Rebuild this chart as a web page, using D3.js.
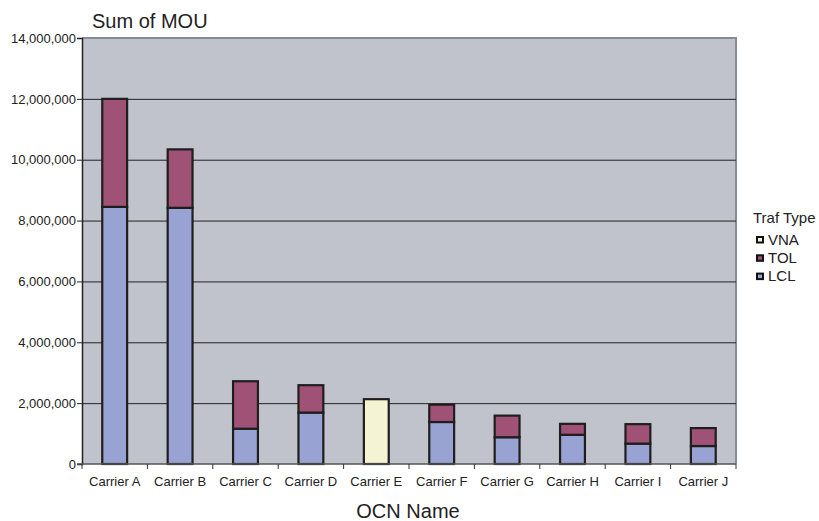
<!DOCTYPE html>
<html><head><meta charset="utf-8">
<script src="https://cdn.jsdelivr.net/npm/d3@7"></script>
<style>body{margin:0;background:#fff;} text{font-family:"Liberation Sans",Arial,sans-serif;fill:#222;}</style>
</head><body>
<svg id="c" width="819" height="521"></svg>
<script>
const categories = ["Carrier A","Carrier B","Carrier C","Carrier D","Carrier E","Carrier F","Carrier G","Carrier H","Carrier I","Carrier J"];
const lclValues = [8450000,8420000,1160000,1690000,0,1380000,880000,960000,670000,590000];
const tolValues = [3550000,1920000,1560000,900000,0,570000,710000,360000,640000,590000];
const vnaValues = [0,0,0,0,2130000,0,0,0,0,0];
const seriesNames = ["LCL","TOL","VNA"];
const legendOrder = ["VNA","TOL","LCL"];
const yTicks = [0,2000000,4000000,6000000,8000000,10000000,12000000,14000000];
const colors = {LCL:"#99A3D3", TOL:"#A05276", VNA:"#F4F3D4"};

const svg = d3.select("#c");
const pL = 82, pR = 736, pT = 38, pB = 464;
const x = d3.scaleBand().domain(categories).range([pL,pR]).paddingInner(0).paddingOuter(0);
const y = d3.scaleLinear().domain([0,14000000]).range([pB,pT]);

// plot background
svg.append("rect").attr("x",pL).attr("y",pT).attr("width",pR-pL).attr("height",pB-pT).attr("fill","#C0C3CB");
// top/right border
svg.append("path").attr("d",`M${pL},${pT}H${pR}V${pB}`).attr("fill","none").attr("stroke","#868C94").attr("stroke-width",2);

// gridlines
svg.append("g").selectAll("line").data(yTicks.filter(d=>d>0 && d<14000000)).join("line")
  .attr("x1",pL).attr("x2",pR).attr("y1",d=>y(d)+0.5).attr("y2",d=>y(d)+0.5)
  .attr("stroke","#222").attr("stroke-width",1);

// stacked data
const table = categories.map((c,i)=>({cat:c, LCL:lclValues[i], TOL:tolValues[i], VNA:vnaValues[i]}));
const stack = d3.stack().keys(seriesNames)(table);
const bw = x.bandwidth()*0.38;
stack.forEach(s=>{
  svg.append("g").selectAll("rect").data(s.filter(d=>d[1]-d[0]>0)).join("rect")
    .attr("x",d=>x(d.data.cat)+x.bandwidth()/2-bw/2)
    .attr("y",d=>y(d[1]))
    .attr("width",bw)
    .attr("height",d=>y(d[0])-y(d[1]))
    .attr("fill",colors[s.key]).attr("stroke","#1e1e1e").attr("stroke-width",2.2);
});

// y axis
const ya = d3.axisLeft(y).tickValues(yTicks).tickSize(5).tickFormat(d3.format(","));
const yg = svg.append("g").attr("transform",`translate(${pL},0)`).call(ya);
yg.select(".domain").attr("stroke","#222").attr("stroke-width",1.5);
yg.selectAll(".tick line").attr("stroke","#222");
yg.selectAll("text").attr("font-size",13).attr("x",-6).style("fill","#222").style("font-family","'Liberation Sans',Arial,sans-serif");

// x axis
const xg = svg.append("g").attr("transform",`translate(0,${pB})`);
xg.append("line").attr("x1",pL-5).attr("x2",pR).attr("y1",0).attr("y2",0).attr("stroke","#555").attr("stroke-width",1.5);
xg.selectAll("line.t").data(categories.concat(["_end"])).join("line").attr("class","t")
  .attr("x1",(d,i)=>pL+i*x.step()).attr("x2",(d,i)=>pL+i*x.step()).attr("y1",0).attr("y2",5).attr("stroke","#333");
xg.selectAll("text").data(categories).join("text")
  .attr("x",d=>x(d)+x.bandwidth()/2).attr("y",22).attr("text-anchor","middle").attr("font-size",13).text(d=>d);

// titles
svg.append("text").attr("x",92).attr("y",28).attr("font-size",20).text("Sum of MOU");
svg.append("text").attr("x",408).attr("y",518).attr("text-anchor","middle").attr("font-size",20).text("OCN Name");

// legend
const lg = svg.append("g");
lg.append("text").attr("x",753).attr("y",223).attr("font-size",15).text("Traf Type");
legendOrder.forEach((k,i)=>{
  const yy = 244 + i*18.3;
  lg.append("rect").attr("x",757).attr("y",yy-7).attr("width",6).attr("height",5.5).attr("fill",colors[k]).attr("stroke","#111").attr("stroke-width",2);
  lg.append("text").attr("x",768).attr("y",yy+0.5).attr("font-size",15).text(k);
});
</script>
</body></html>
